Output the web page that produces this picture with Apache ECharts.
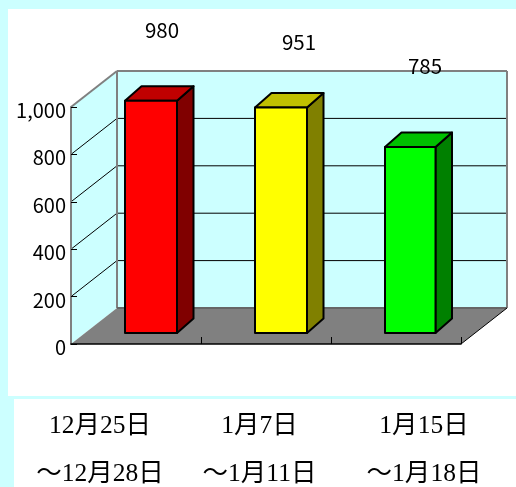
<!DOCTYPE html>
<html lang="ja">
<head>
<meta charset="utf-8">
<title>期間別グラフ</title>
<script src="https://cdn.jsdelivr.net/npm/echarts@6/dist/echarts.min.js"></script>
<style>
  html, body { margin: 0; padding: 0; width: 516px; height: 487px; overflow: hidden; background: #ccffff; }
  .panel { position: absolute; background: #ffffff; }
  #upper { left: 8px; top: 9px; width: 508px; height: 387px; }
  #lower { left: 14px; top: 399px; width: 502px; height: 88px; }
  #chart { position: absolute; left: 0; top: 0; width: 516px; height: 487px; }
</style>
</head>
<body>
<div class="panel" id="upper"></div>
<div class="panel" id="lower"></div>
<div id="chart"></div>
<script>
// Attendance per period
const categories = ['12月25日\n〜12月28日', '1月7日\n〜1月11日', '1月15日\n〜1月18日'];
const values = [980, 951, 785];
const faceColors = ['#ff0000', '#ffff00', '#00ff00'];
const topColors = ['#c00000', '#c0c000', '#00c000'];
const sideColors = ['#800000', '#808000', '#008000'];
const yTicks = [200, 400, 600, 800];

// Pseudo-3D box: room depth and bar depth, in pixels
const ROOM_DX = 46, ROOM_DY = -36;
const BAR_DX = 16.5, BAR_DY = -14.5;
const BAR_SHIFT_X = 15, BAR_SHIFT_Y = -11;
const BAR_WIDTHS = [52, 52, 50.5];
const VALUE_LABEL_SHIFT = [[11, -82], [18, -76], [14, -92]];
const CATEGORY_LABEL_X = [100, 259.5, 424];

const chart = echarts.init(document.getElementById('chart'), null, { renderer: 'canvas' });

function poly(points, fill, stroke, width) {
  return {
    type: 'polygon',
    shape: { points },
    style: { fill: fill, stroke: stroke || 'none', lineWidth: width || 0, lineJoin: 'round' }
  };
}
function seg(a, b, color, width) {
  return {
    type: 'line',
    shape: { x1: a[0], y1: a[1], x2: b[0], y2: b[1] },
    style: { stroke: color, lineWidth: width }
  };
}

// Walls, floor and grid lines of the room
function renderRoom(params, api) {
  if (params.dataIndex !== 0) return null;
  const n = categories.length;
  const band = api.size([1, 0])[0];
  const x0 = api.coord([0, 0])[0] - band / 2;
  const x1 = x0 + band * n;
  const y0 = api.coord([0, 0])[1];
  const yTop = api.coord([0, 1000])[1];
  const shift = p => [p[0] + ROOM_DX, p[1] + ROOM_DY];
  const kids = [
    poly([[x0, y0], shift([x0, y0]), shift([x0, yTop]), [x0, yTop]], '#ccffff'),
    poly([shift([x0, y0]), shift([x1, y0]), shift([x1, yTop]), shift([x0, yTop])], '#ccffff'),
    poly([[x0, y0], shift([x0, y0]), shift([x1, y0]), [x1, y0]], '#808080')
  ];
  yTicks.forEach(v => {
    const y = api.coord([0, v])[1];
    kids.push(seg([x0, y], shift([x0, y]), '#000000', 1));
    kids.push(seg(shift([x0, y]), shift([x1, y]), '#000000', 1));
  });
  kids.push(seg([x0, yTop], shift([x0, yTop]), '#808080', 2));
  kids.push(seg(shift([x0, yTop]), shift([x1, yTop]), '#808080', 2));
  kids.push(seg(shift([x1, yTop]), shift([x1, y0]), '#808080', 2));
  kids.push(seg(shift([x0, yTop]), shift([x0, y0]), '#808080', 2));
  kids.push(seg(shift([x0, y0]), shift([x1, y0]), '#666666', 2));
  kids.push(seg(shift([x1, y0]), [x1, y0], '#000000', 1));
  return { type: 'group', children: kids };
}

// One bar as front, top and side faces
function renderBar(params, api) {
  const i = params.dataIndex;
  const base = api.coord([i, 0]);
  const top = api.coord([i, api.value(1)]);
  const l = base[0] + BAR_SHIFT_X - 26;
  const r = l + BAR_WIDTHS[i];
  const b = base[1] + BAR_SHIFT_Y;
  const t = top[1] + BAR_SHIFT_Y;
  const dx = BAR_DX, dy = BAR_DY;
  return {
    type: 'group',
    children: [
      poly([[r, t], [r + dx, t + dy], [r + dx, b + dy], [r, b]], sideColors[i], '#000000', 2),
      poly([[l, t], [l + dx, t + dy], [r + dx, t + dy], [r, t]], topColors[i], '#000000', 2),
      poly([[l, t], [r, t], [r, b], [l, b]], faceColors[i], '#000000', 2)
    ]
  };
}

// Value above each bar
function renderValue(params, api) {
  const i = params.dataIndex;
  const p = api.coord([i, api.value(1)]);
  return {
    type: 'text',
    style: {
      x: p[0] + BAR_SHIFT_X + VALUE_LABEL_SHIFT[i][0],
      y: p[1] + VALUE_LABEL_SHIFT[i][1],
      text: String(api.value(1)),
      font: '20.5px "Noto Sans CJK JP", sans-serif',
      fill: '#000000',
      align: 'center',
      verticalAlign: 'middle'
    }
  };
}

// Tick marks along the floor edge, above the floor polygon
function renderFloorTicks(params, api) {
  const i = params.dataIndex;
  const band = api.size([1, 0])[0];
  const p = api.coord([i, 0]);
  const x = Math.round(p[0] + band / 2) + 0.5;
  return seg([x, p[1] - 7], [x, p[1]], '#000000', 1);
}

// Two-line period label below the chart
function renderCategory(params, api) {
  const i = params.dataIndex;
  return {
    type: 'text',
    style: {
      x: CATEGORY_LABEL_X[i],
      y: 450,
      text: categories[i],
      font: '25.5px "Liberation Serif", "Noto Sans CJK JP", serif',
      lineHeight: 48,
      fill: '#000000',
      align: 'center',
      verticalAlign: 'middle'
    }
  };
}

const rows = values.map((v, i) => [i, v]);

chart.setOption({
  animation: false,
  backgroundColor: 'transparent',
  grid: { left: 71, top: 107, width: 390, height: 237, containLabel: false },
  xAxis: {
    type: 'category',
    data: categories,
    z: 10,
    axisLine: { lineStyle: { color: '#000000', width: 1.5 } },
    axisTick: { show: false },
    axisLabel: { show: false },
    splitLine: { show: false }
  },
  yAxis: {
    type: 'value',
    min: 0,
    max: 1000,
    interval: 200,
    z: 10,
    axisLine: { show: true, lineStyle: { color: '#808080', width: 2 } },
    axisTick: { show: true, inside: true, length: 6, lineStyle: { color: '#000000', width: 1 } },
    axisLabel: {
      color: '#000000',
      fontFamily: '"Noto Sans CJK JP", sans-serif',
      fontSize: 20,
      margin: 5,
      verticalAlign: 'top',
      lineHeight: 7,
      formatter: v => v.toLocaleString('en-US')
    },
    splitLine: { show: false }
  },
  series: [
    { type: 'custom', z: 1, clip: false, renderItem: renderRoom, data: rows, silent: true },
    { type: 'custom', z: 2, clip: false, renderItem: renderFloorTicks, data: rows, silent: true },
    { type: 'custom', z: 3, clip: false, renderItem: renderBar, data: rows },
    { type: 'custom', z: 12, clip: false, renderItem: renderValue, data: rows },
    { type: 'custom', z: 12, clip: false, renderItem: renderCategory, data: rows }
  ]
});
</script>
</body>
</html>
